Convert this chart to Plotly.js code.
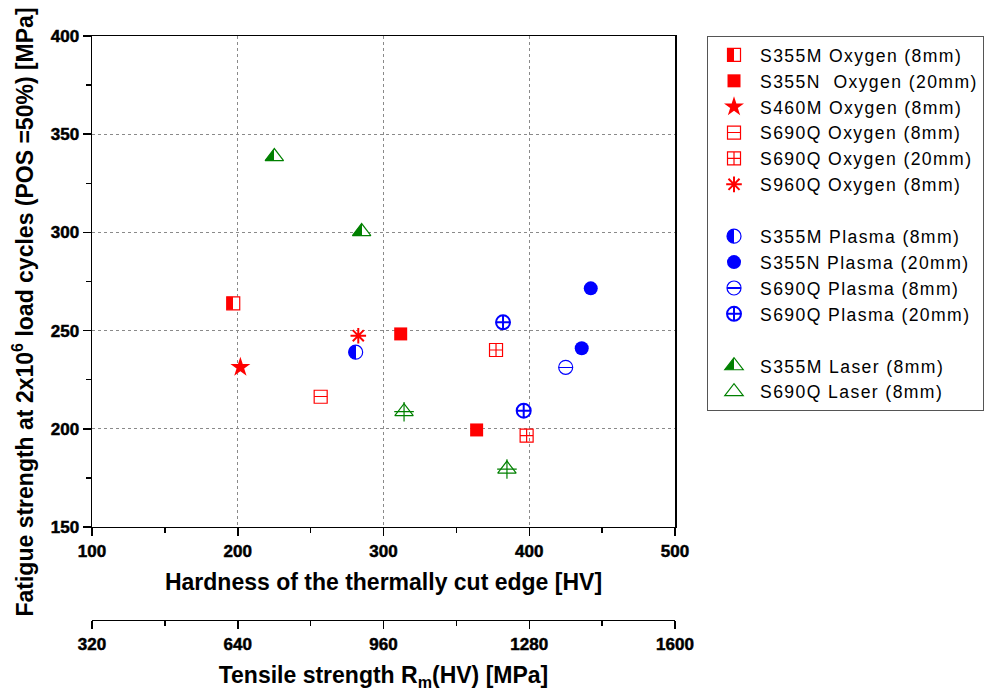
<!DOCTYPE html>
<html><head><meta charset="utf-8">
<script src="https://cdn.plot.ly/plotly-3.0.1.min.js"></script>
<style>
html,body{margin:0;padding:0;background:#fff;}
#chart{width:994px;height:695px;}
.legendtext{letter-spacing:1.4px;}
</style>
</head><body><div id="chart"></div>
<script>
// ---- data (hardness HV, fatigue strength MPa) ----
const s355mOxyHV = [196.9];          const s355mOxyFS = [263.9];
const s355nOxyHV = [311.8, 363.9];   const s355nOxyFS = [248.3, 199.4];
const s460mOxyHV = [201.8];          const s460mOxyFS = [231.3];
const s690qOxy8HV = [256.9];         const s690qOxy8FS = [216.3];
const s690qOxy20HV = [377.2, 398.2]; const s690qOxy20FS = [240.1, 196.5];
const s960qOxyHV = [282.7];          const s960qOxyFS = [247.4];
const s355mPlaHV = [280.9];          const s355mPlaFS = [239.0];
const s355nPlaHV = [442.2, 436.0];   const s355nPlaFS = [271.5, 241.0];
const s690qPla8HV = [425.0];         const s690qPla8FS = [231.3];
const s690qPla20HV = [382.0, 396.2]; const s690qPla20FS = [254.2, 209.2];
const s355mLasHV = [225.1, 285.0];   const s355mLasFS = [338.6, 300.4];
const s690qLasHV = [314.1, 384.7];   const s690qLasFS = [208.7, 179.5];

const seriesNames = [
  'S355M Oxygen (8mm)', 'S355N\u00A0 Oxygen (20mm)', 'S460M Oxygen (8mm)',
  'S690Q Oxygen (8mm)', 'S690Q Oxygen (20mm)', 'S960Q Oxygen (8mm)',
  'S355M Plasma (8mm)', 'S355N Plasma (20mm)', 'S690Q Plasma (8mm)', 'S690Q Plasma (20mm)',
  'S355M Laser (8mm)', 'S690Q Laser (8mm)'
];
const hvTicks = [100, 200, 300, 400, 500];
const rmTicks = [320, 640, 960, 1280, 1600];
const fsTicks = [150, 200, 250, 300, 350, 400];

const RED = '#ff0000', BLUE = '#0000ff', GREEN = '#008000';

function tr(name, x, y, group, marker, extra) {
  return Object.assign({
    type: 'scatter', mode: 'markers', name: name, x: x, y: y,
    legendgroup: group, marker: marker, hoverinfo: 'x+y'
  }, extra || {});
}
function overlay(x, y, group, marker) {
  return tr('', x, y, group, marker, {showlegend: false});
}
// half-filled symbols: horizontal gradient (made sharp after drawing)
function half(sym, size, col) {
  return {symbol: sym, size: size, color: col, gradient: {type: 'horizontal', color: 'white'}, line: {color: col, width: 1.2}};
}
// symbols with a horizontal bar inside: vertical gradient (turned into a band after drawing)
function barred(sym, size, col) {
  return {symbol: sym, size: size, color: col, gradient: {type: 'vertical', color: 'white'}, line: {color: col, width: 1.2}};
}

const traces = [
  tr(seriesNames[0], s355mOxyHV, s355mOxyFS, 'oxy', half('square', 13, RED)),
  tr(seriesNames[1], s355nOxyHV, s355nOxyFS, 'oxy', {symbol: 'square', size: 13, color: RED, line: {width: 0}}),
  tr(seriesNames[2], s460mOxyHV, s460mOxyFS, 'oxy', {symbol: 'star', size: 15, color: RED, line: {width: 0}}),
  tr(seriesNames[3], s690qOxy8HV, s690qOxy8FS, 'oxy', barred('square', 13, RED)),
  tr(seriesNames[4], s690qOxy20HV, s690qOxy20FS, 'oxy',
     {symbol: 'square-cross-open', size: 13, color: RED, line: {color: RED, width: 1.2}}),
  tr(seriesNames[5], s960qOxyHV, s960qOxyFS, 'oxy',
     {symbol: 'asterisk-open', size: 13, color: RED, line: {color: RED, width: 2}}),

  tr(seriesNames[6], s355mPlaHV, s355mPlaFS, 'pla', half('circle', 14, BLUE)),
  tr(seriesNames[7], s355nPlaHV, s355nPlaFS, 'pla', {symbol: 'circle', size: 14, color: BLUE, line: {width: 0}}),
  tr(seriesNames[8], s690qPla8HV, s690qPla8FS, 'pla', barred('circle', 14, BLUE)),
  tr(seriesNames[9], s690qPla20HV, s690qPla20FS, 'pla',
     {symbol: 'circle-cross-open', size: 14, color: BLUE, line: {color: BLUE, width: 2}}),

  tr(seriesNames[10], s355mLasHV, s355mLasFS, 'las', half('triangle-up', 16, GREEN)),
  tr(seriesNames[11], s690qLasHV, s690qLasFS, 'las',
     {symbol: 'triangle-up-open', size: 16, color: GREEN, line: {color: GREEN, width: 1.2}}),
  overlay(s690qLasHV, s690qLasFS, 'las',
     {symbol: 'cross-thin-open', size: 14, color: GREEN, line: {color: GREEN, width: 1.2}}),

  // carrier for the secondary (tensile strength) axis
  {type: 'scatter', mode: 'markers', x: [], y: [], xaxis: 'x2', yaxis: 'y', showlegend: false, hoverinfo: 'skip'}
];

const FONT = 'Liberation Sans, Arial, sans-serif';
const tickFont = {family: FONT, size: 17, color: '#000', weight: 700};
const titleFont = {family: FONT, size: 23, color: '#000', weight: 'bold'};
const bold = v => '<b>' + v + '</b>';

const layout = {
  width: 994, height: 695,
  margin: {l: 92, r: 319, t: 36, b: 10},
  paper_bgcolor: '#fff', plot_bgcolor: '#fff',
  showlegend: true,
  legend: {
    x: 1.0549, xanchor: 'left', y: 1, yanchor: 'top',
    bordercolor: '#555', borderwidth: 1, bgcolor: '#fff',
    font: {family: FONT, size: 17.6, color: '#000'},
    traceorder: 'grouped', tracegroupgap: 26, itemwidth: 42
  },
  xaxis: {
    range: [100, 500], domain: [0, 1], anchor: 'y',
    tickmode: 'array', tickvals: hvTicks, ticktext: hvTicks.map(bold),
    ticks: 'outside', ticklen: 8, tickwidth: 1.5, tickcolor: '#000',
    minor: {dtick: 50, tick0: 100, ticks: 'outside', ticklen: 5, tickwidth: 1.5, tickcolor: '#000', showgrid: false},
    showline: true, linecolor: '#000', linewidth: 1.5, mirror: true,
    showgrid: true, gridcolor: '#8a8a8a', gridwidth: 1, griddash: 'dot',
    zeroline: false, tickfont: tickFont,
    title: {text: 'Hardness of the thermally cut edge [HV]', font: titleFont, standoff: 14}
  },
  xaxis2: {
    range: [320, 1600], overlaying: 'x', anchor: 'free', position: 0.1002, side: 'bottom',
    tickmode: 'array', tickvals: rmTicks, ticktext: rmTicks.map(bold),
    ticks: 'outside', ticklen: 8, tickwidth: 1.5, tickcolor: '#000',
    minor: {dtick: 160, tick0: 320, ticks: 'outside', ticklen: 5, tickwidth: 1.5, tickcolor: '#000', showgrid: false},
    showline: true, linecolor: '#000', linewidth: 1.5,
    showgrid: false, zeroline: false, tickfont: tickFont,
    title: {text: 'Tensile strength R<sub>m</sub>(HV) [MPa]', font: titleFont, standoff: 14}
  },
  yaxis: {
    range: [150, 400], domain: [0.2435, 1], anchor: 'x',
    tickmode: 'array', tickvals: fsTicks, ticktext: fsTicks.map(bold),
    ticks: 'outside', ticklen: 8, tickwidth: 1.5, tickcolor: '#000',
    minor: {dtick: 25, tick0: 150, ticks: 'outside', ticklen: 5, tickwidth: 1.5, tickcolor: '#000', showgrid: false},
    showline: true, linecolor: '#000', linewidth: 1.5, mirror: true,
    showgrid: true, gridcolor: '#8a8a8a', gridwidth: 1, griddash: 'dot',
    zeroline: false, tickfont: tickFont
  },
  annotations: [{
    text: 'Fatigue strength at 2x10<sup>6</sup> load cycles (POS =50%) [MPa]',
    xref: 'paper', yref: 'paper', x: -0.1175, y: 0.5747,
    xanchor: 'center', yanchor: 'middle', textangle: -90, showarrow: false,
    font: titleFont
  }]
};

// make the marker gradients crisp: half fills and a thin middle bar
function sharpenGradients(gd) {
  const NS = 'http://www.w3.org/2000/svg';
  gd.querySelectorAll('linearGradient').forEach(g => {
    const stops = g.querySelectorAll('stop');
    if (stops.length < 2) return;
    const c0 = stops[0].getAttribute('stop-color');
    const c1 = stops[stops.length - 1].getAttribute('stop-color');
    const vertical = g.getAttribute('y1') !== g.getAttribute('y2');
    const spec = vertical
      ? [[0, c0], [45, c0], [45, c1], [55, c1], [55, c0], [100, c0]]
      : [[0, c0], [50, c0], [50, c1], [100, c1]];
    while (g.firstChild) g.removeChild(g.firstChild);
    spec.forEach(([o, c]) => {
      const s = document.createElementNS(NS, 'stop');
      s.setAttribute('offset', o + '%');
      s.setAttribute('stop-color', c);
      g.appendChild(s);
    });
  });
  return gd;
}
// heavier tick labels, like the bold ones in the original
function boldTicks(gd) {
  gd.querySelectorAll('.xaxislayer-above text, .yaxislayer-above text, .x2axislayer-above text, .xtick text, .ytick text, .x2tick text')
    .forEach(t => {
      t.style.setProperty('font-weight', 'bold', 'important');
      t.style.setProperty('stroke', '#000');
      t.style.setProperty('stroke-width', '0.5px');
      t.querySelectorAll('tspan').forEach(s => s.style.setProperty('font-weight', 'bold', 'important'));
    });
  return gd;
}

Plotly.newPlot('chart', traces, layout, {displayModeBar: false, staticPlot: true})
  .then(sharpenGradients).then(boldTicks);
</script>
</body></html>
